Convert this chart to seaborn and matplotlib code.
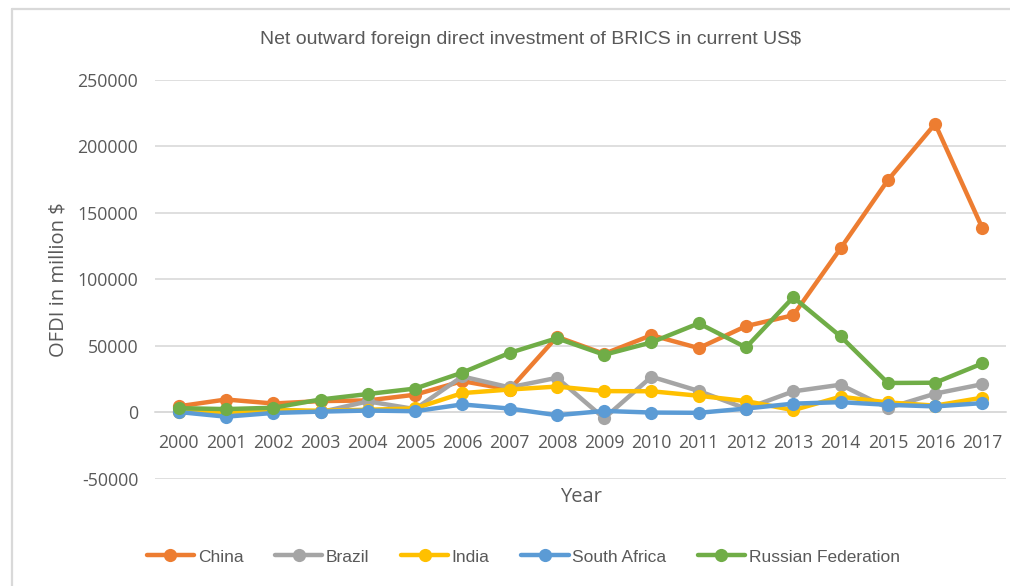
import matplotlib
matplotlib.use("Agg")
import matplotlib.pyplot as plt
from matplotlib.lines import Line2D
import numpy as np
import pandas as pd
import seaborn as sns

# Net outward FDI of the BRICS economies, million current US$
years = list(range(2000, 2018))
china = [4600, 9700, 6700, 8500, 9000, 13300, 23500, 17200, 56800, 44000,
         58000, 48300, 64800, 73000, 123200, 174400, 216700, 138300]
brazil = [1300, -2000, 2500, 200, 8300, 2500, 27000, 18800, 26000, -4400,
          26800, 16100, 2800, 15800, 20800, 3300, 14100, 21200]
india = [500, 700, 1700, 1300, 2000, 3000, 14500, 17200, 19400, 16000,
         15900, 12500, 8500, 1700, 11800, 7500, 5100, 11100]
south_africa = [300, -3200, -400, 600, 1400, 900, 6000, 2900, -2100, 1100,
                -100, -300, 2900, 6600, 7700, 5700, 4500, 7000]
russia = [3200, 2500, 3500, 9700, 13800, 17900, 29900, 44700, 55700, 43300,
          52600, 66900, 48800, 86500, 57100, 22100, 22300, 36800]

countries = ["China", "Brazil", "India", "South Africa", "Russian Federation"]
colors = ["#ED7D31", "#A5A5A5", "#FFC000", "#5B9BD5", "#70AD47"]
y_ticks = [-50000, 0, 50000, 100000, 150000, 200000, 250000]

series = [china, brazil, india, south_africa, russia]
df = pd.concat(
    [pd.DataFrame({"Year": years, "OFDI": vals, "Country": name})
     for name, vals in zip(countries, series)],
    ignore_index=True,
)
palette = dict(zip(countries, colors))

sns.set_theme(style="white")
plt.rcParams["font.family"] = ["Open Sans", "DejaVu Sans"]
narrow = ["Liberation Sans Narrow", "Liberation Sans", "DejaVu Sans"]
text_grey = "#595959"
grid_grey = "#D9D9D9"

fig = plt.figure(figsize=(10.10, 5.86), dpi=100)
ax = fig.add_axes([0.1535, 0.1826, 0.8426, 0.6817])

sns.lineplot(data=df, x="Year", y="OFDI", hue="Country", hue_order=countries,
             palette=palette, marker="o", markersize=9.5, markeredgewidth=0,
             linewidth=3.2, legend=False, ax=ax)

ax.set_xlim(years[0] - 0.5, years[-1] + 0.5)
ax.set_ylim(y_ticks[0], y_ticks[-1])
ax.set_xticks(years)
ax.set_xticklabels([str(y) for y in years])
ax.set_yticks(y_ticks)
ax.set_yticklabels([str(v) for v in y_ticks])

ax.yaxis.grid(True, color=grid_grey, linewidth=1.2)
ax.set_axisbelow(True)
for side in ["top", "right", "left"]:
    ax.spines[side].set_visible(False)
ax.spines["bottom"].set_position(("data", 0))
ax.spines["bottom"].set_color(grid_grey)
ax.spines["bottom"].set_linewidth(1.2)
ax.spines["bottom"].set_zorder(0.5)

ax.tick_params(axis="x", length=0, pad=15.5, labelsize=12.7, labelcolor=text_grey)
ax.tick_params(axis="y", length=0, pad=12, labelsize=12.8, labelcolor=text_grey)

ax.set_xlabel("Year", fontsize=14.5, color=text_grey)
ax.xaxis.set_label_coords(0.5, -0.045)
ax.xaxis.label.set_verticalalignment("center")
ax.set_ylabel("OFDI in million $", fontsize=14.5, color=text_grey)
ax.yaxis.set_label_coords(-0.113, 0.5)
ax.yaxis.label.set_verticalalignment("center")

fig.text(0.525, 0.932, "Net outward foreign direct investment of BRICS in current US$",
         ha="center", va="center", fontsize=14, color=text_grey, family=narrow)

handles = [Line2D([], [], color=c, linewidth=3.2, marker="o", markersize=9.5,
                  markeredgewidth=0) for c in colors]
fig.legend(handles, countries, loc="center", bbox_to_anchor=(0.518, 0.0495),
           ncol=5, frameon=False, handlelength=2.75, handletextpad=0.2,
           columnspacing=1.8, prop={"family": narrow, "size": 12.5},
           labelcolor=text_grey)

# chart frame
fig.add_artist(Line2D([12 / 1010, 12 / 1010], [0, 1 - 9 / 586],
                      transform=fig.transFigure, color=grid_grey, linewidth=1.6))
fig.add_artist(Line2D([12 / 1010, 1], [1 - 9 / 586, 1 - 9 / 586],
                      transform=fig.transFigure, color=grid_grey, linewidth=1.6))

fig.savefig("out.png", dpi=100)
